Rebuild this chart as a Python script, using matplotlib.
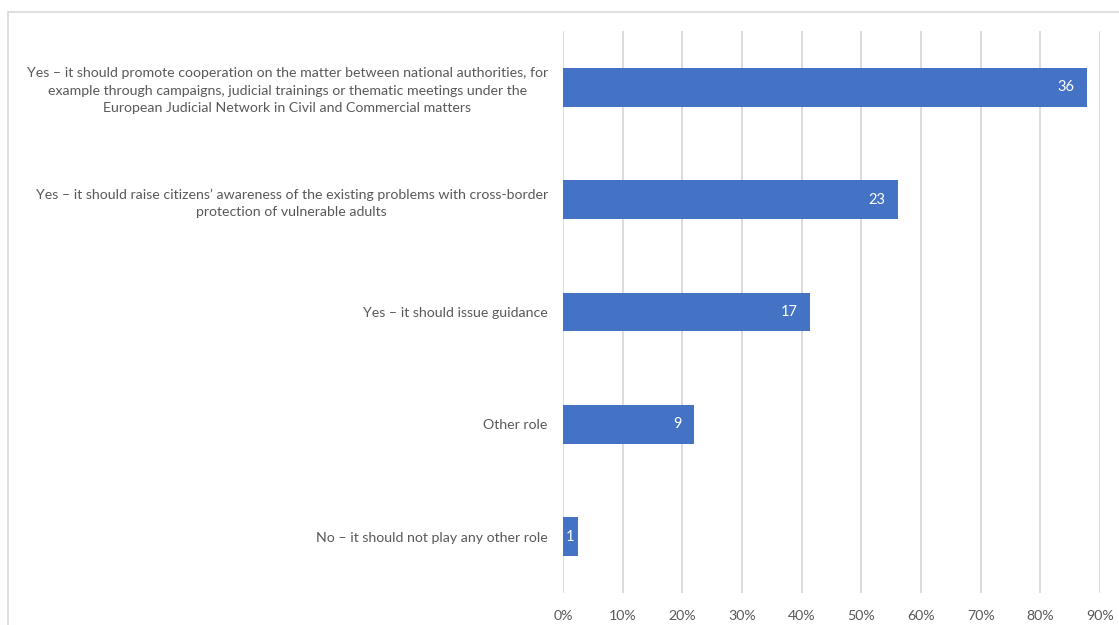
import matplotlib.pyplot as plt
from matplotlib.patches import Rectangle
from matplotlib.ticker import PercentFormatter

plt.rcParams["font.family"] = ["Lato", "DejaVu Sans"]

# response categories, top to bottom
categories = [
    "Yes \u2013 it should promote cooperation on the matter between national authorities, for\n"
    "example through campaigns, judicial trainings or thematic meetings under the\n"
    "European Judicial Network in Civil and Commercial matters",
    "Yes \u2013 it should raise citizens\u2019 awareness of the existing problems with cross-border\n"
    "protection of vulnerable adults",
    "Yes \u2013 it should issue guidance",
    "Other role",
    "No \u2013 it should not play any other role",
]
counts = [36, 23, 17, 9, 1]
total_respondents = 41

shares = [c / total_respondents for c in counts]

fig = plt.figure(figsize=(11.19, 6.25), dpi=100)
ax = fig.add_axes([563 / 1119, 1 - 593 / 625, (1100 - 563) / 1119, (593 - 31) / 625])

# light frame around the chart area
fig.patches.append(Rectangle((8 / 1119, -0.1), 1.2, 1 - 12 / 625 + 0.1,
                             transform=fig.transFigure, fill=False,
                             edgecolor="#d9d9d9", linewidth=1.2))

y = list(range(len(categories)))
ax.barh(y, shares, height=0.345, color="#4472c4", zorder=3)

for yi, share, c in zip(y, shares, counts):
    if share < 0.05:
        # too short for an inside-end label, centre it on the bar
        ax.text(share / 2, yi, str(c), ha="center", va="center",
                color="white", fontsize=10.5, zorder=4)
    else:
        ax.annotate(str(c), xy=(share, yi), xytext=(-9, 0), textcoords="offset points",
                    ha="right", va="center", color="white", fontsize=10.5, zorder=4)

ax.set_xlim(0, 0.9)
ax.set_ylim(len(categories) - 0.5, -0.5)
ax.set_xticks([i / 10 for i in range(10)])
ax.xaxis.set_major_formatter(PercentFormatter(1.0, decimals=0))
ax.set_yticks(y)
ax.set_yticklabels(categories, multialignment="center", linespacing=1.55)
ax.tick_params(axis="y", length=0, pad=11, labelsize=10.2, labelcolor="#595959")
ax.tick_params(axis="x", length=0, pad=12, labelsize=10.2, labelcolor="#595959")

ax.grid(axis="x", color="#d9d9d9", linewidth=1.3, zorder=0)
for s in ax.spines.values():
    s.set_visible(False)

fig.savefig("out.png", dpi=100)
